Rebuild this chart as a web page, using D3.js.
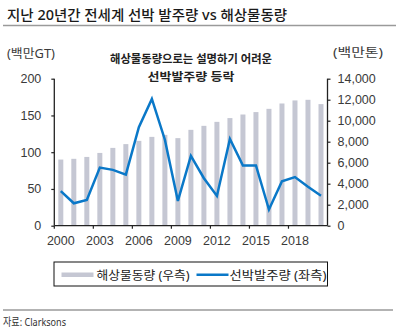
<!DOCTYPE html>
<html>
<head>
<meta charset="utf-8">
<script src="https://cdn.jsdelivr.net/npm/d3@7"></script>
<style>
  body { margin: 0; background: #fff; }
  svg { display: block; font-family: "Noto Sans", "Noto Sans CJK KR", sans-serif; }
</style>
</head>
<body>
<div id="chart"></div>
<script>
const width = 396;
const height = 328;

// 연도, 해상물동량(백만톤, 우축), 선박발주량(백만GT, 좌축)
const years = d3.range(2000, 2021);
const tradeVolume = [6300, 6370, 6550, 6930, 7410, 7770, 8080, 8460, 8650, 8340, 9130,
                     9510, 9890, 10250, 10590, 10820, 11130, 11640, 11930, 11990, 11580];
const shipOrders = [47, 30.5, 35, 79, 76, 69.5, 134, 172.5, 117, 33.7, 95,
                    64.6, 40.5, 118, 82, 82, 22, 60.5, 66.2, 53, 40.8];
const leftTicks = [0, 50, 100, 150, 200];
const rightTicks = [0, 2000, 4000, 6000, 8000, 10000, 12000, 14000];
const yearTicks = [2000, 2003, 2006, 2009, 2012, 2015, 2018];

const plot = { left: 54.3, right: 327.5, top: 78.7, bottom: 225.7 };

const svg = d3.select("#chart").append("svg")
    .attr("width", width)
    .attr("height", height);

svg.append("rect").attr("width", width).attr("height", height).attr("fill", "#fff");

const x = d3.scaleBand()
    .domain(years)
    .range([plot.left, plot.right])
    .padding(0);

const yLeft = d3.scaleLinear().domain([0, 200]).range([plot.bottom, plot.top]);
const yRight = d3.scaleLinear().domain([0, 14000]).range([plot.bottom, plot.top]);

const barWidth = 5;

// 제목과 구분선
svg.append("text")
    .attr("x", 7)
    .attr("y", 19.5)
    .attr("fill", "#1a1a1a")
    .style("font-size", "14px")
    .style("font-weight", "500")
    .attr("textLength", 280)
    .attr("lengthAdjust", "spacingAndGlyphs")
    .text("지난 20년간 전세계 선박 발주량 vs 해상물동량");

svg.append("line")
    .attr("x1", 3).attr("x2", 396)
    .attr("y1", 25.5).attr("y2", 25.5)
    .attr("stroke", "#9a9a9a")
    .attr("stroke-width", 1.5);

// 막대: 해상물동량
svg.append("g")
    .selectAll("rect")
    .data(years)
    .enter().append("rect")
    .attr("x", (d) => x(d) + (x.bandwidth() - barWidth) / 2)
    .attr("y", (d, i) => yRight(tradeVolume[i]))
    .attr("width", barWidth)
    .attr("height", (d, i) => plot.bottom - yRight(tradeVolume[i]))
    .attr("fill", "#c5c7d3");

// 선: 선박발주량
const line = d3.line()
    .x((d, i) => x(years[i]) + x.bandwidth() / 2)
    .y((d) => yLeft(d));

svg.append("path")
    .datum(shipOrders)
    .attr("d", line)
    .attr("fill", "none")
    .attr("stroke", "#0a78c8")
    .attr("stroke-width", 2.5)
    .attr("stroke-linejoin", "miter");

// 축
const axisColor = "#222";
const labelColor = "#3a3a3a";

const gLeft = svg.append("g")
    .attr("transform", `translate(${plot.left},0)`)
    .call(d3.axisLeft(yLeft).tickValues(leftTicks).tickSize(3).tickPadding(10));

const gRight = svg.append("g")
    .attr("transform", `translate(${plot.right},0)`)
    .call(d3.axisRight(yRight).tickValues(rightTicks).tickSize(3).tickPadding(7)
        .tickFormat(d3.format(",")));

const gBottom = svg.append("g")
    .attr("transform", `translate(0,${plot.bottom})`)
    .call(d3.axisBottom(x).tickValues(yearTicks).tickSize(3).tickPadding(7).tickSizeOuter(0));

// 연도 눈금은 구간 경계에
gBottom.selectAll(".tick line")
    .attr("x1", -x.step() / 2)
    .attr("x2", -x.step() / 2);

[gLeft, gRight, gBottom].forEach((g) => {
    g.select(".domain").attr("stroke", axisColor).attr("stroke-width", 1.3);
    g.selectAll(".tick line").attr("stroke", axisColor).attr("stroke-width", 1.2);
    g.selectAll(".tick text")
        .attr("fill", labelColor)
        .style("font-size", "12.5px")
        .style("font-weight", "300");
});
gLeft.select(".domain").attr("d", `M0,${plot.bottom}V${plot.top}`);
gRight.select(".domain").attr("d", `M0,${plot.bottom}V${plot.top}`);
gBottom.select(".domain").attr("d", `M${plot.left},0H${plot.right}`);

// 단위
svg.append("text")
    .attr("x", 7).attr("y", 58)
    .attr("fill", labelColor)
    .style("font-size", "12px")
    .attr("textLength", 48)
    .attr("lengthAdjust", "spacingAndGlyphs")
    .text("(백만GT)");

svg.append("text")
    .attr("x", 333).attr("y", 57)
    .attr("fill", labelColor)
    .style("font-size", "12px")
    .attr("textLength", 50)
    .attr("lengthAdjust", "spacingAndGlyphs")
    .text("(백만톤)");

// 주석
const note = ["해상물동량으로는 설명하기 어려운", "선박발주량 등락"];
const noteWidths = [162, 87];
svg.append("g")
    .selectAll("text")
    .data(note)
    .enter().append("text")
    .attr("x", 191)
    .attr("y", (d, i) => 63 + i * 18)
    .attr("text-anchor", "middle")
    .attr("fill", "#222")
    .style("font-size", "11.5px")
    .style("font-weight", "bold")
    .attr("textLength", (d, i) => noteWidths[i])
    .attr("lengthAdjust", "spacingAndGlyphs")
    .text((d) => d);

// 범례
const legend = svg.append("g");
legend.append("rect")
    .attr("x", 54).attr("y", 262)
    .attr("width", 273.5).attr("height", 24)
    .attr("fill", "#fff")
    .attr("stroke", "#111")
    .attr("stroke-width", 1);

legend.append("rect")
    .attr("x", 61.5).attr("y", 272.5)
    .attr("width", 32).attr("height", 4.5)
    .attr("fill", "#c5c7d3");

legend.append("text")
    .attr("x", 96.5).attr("y", 279.5)
    .attr("fill", "#222")
    .style("font-size", "12px")
    .attr("textLength", 93)
    .attr("lengthAdjust", "spacingAndGlyphs")
    .text("해상물동량 (우측)");

legend.append("line")
    .attr("x1", 196.5).attr("x2", 228.5)
    .attr("y1", 274.7).attr("y2", 274.7)
    .attr("stroke", "#0a78c8")
    .attr("stroke-width", 2.5);

legend.append("text")
    .attr("x", 229.5).attr("y", 279.5)
    .attr("fill", "#222")
    .style("font-size", "12px")
    .attr("textLength", 97)
    .attr("lengthAdjust", "spacingAndGlyphs")
    .text("선박발주량 (좌측)");

// 출처
svg.append("line")
    .attr("x1", 3).attr("x2", 393)
    .attr("y1", 310).attr("y2", 310)
    .attr("stroke", "#9a9a9a")
    .attr("stroke-width", 1.3);

svg.append("text")
    .attr("x", 3).attr("y", 325.5)
    .attr("fill", "#333")
    .style("font-size", "11px")
    .attr("textLength", 63)
    .attr("lengthAdjust", "spacingAndGlyphs")
    .text("자료: Clarksons");
</script>
</body>
</html>
